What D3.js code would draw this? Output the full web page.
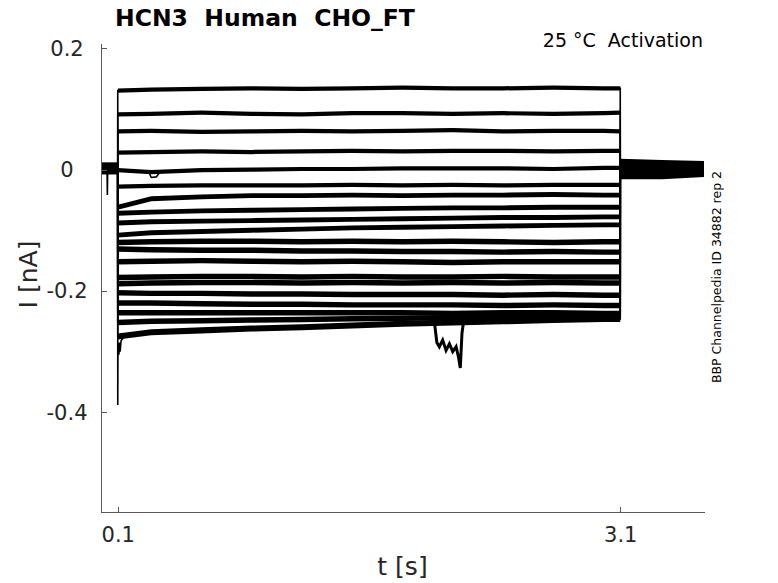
<!DOCTYPE html>
<html>
<head>
<meta charset="utf-8">
<script src="https://cdn.jsdelivr.net/npm/d3@7"></script>
<style>
  body { margin: 0; background: #fff; }
  svg { display: block; font-family: "DejaVu Sans", sans-serif; }
  .axis path, .axis line { stroke: #595959; shape-rendering: crispEdges; }
  .axis text { fill: #262626; font-size: 21px; font-family: "DejaVu Sans", sans-serif; }
</style>
</head>
<body>
<svg id="chart"></svg>
<script>
// sample times of the voltage step (s)
const stepTimes = [0.1, 0.3, 0.6, 0.9, 1.2, 1.5, 1.8, 2.1, 2.4, 2.7, 3.0, 3.1];

// current of each sweep during the step (nA)
const sweep01 = [0.130, 0.132, 0.133, 0.134, 0.133, 0.134, 0.135, 0.134, 0.134, 0.135, 0.134, 0.134];
const sweep02 = [0.091, 0.092, 0.094, 0.092, 0.091, 0.093, 0.093, 0.092, 0.093, 0.092, 0.093, 0.094];
const sweep03 = [0.063, 0.064, 0.062, 0.063, 0.064, 0.063, 0.064, 0.065, 0.063, 0.064, 0.064, 0.063];
const sweep04 = [0.028, 0.029, 0.030, 0.029, 0.030, 0.031, 0.030, 0.031, 0.031, 0.030, 0.031, 0.031];
const sweep05 = [-0.001, -0.004, -0.001, 0.000, 0.001, 0.001, 0.002, 0.002, 0.002, 0.001, 0.003, 0.003];
const sweep06 = [-0.028, -0.027, -0.026, -0.026, -0.026, -0.025, -0.026, -0.025, -0.026, -0.025, -0.025, -0.025];
const sweep07 = [-0.062, -0.048, -0.045, -0.043, -0.043, -0.042, -0.043, -0.042, -0.042, -0.041, -0.042, -0.042];
const sweep08 = [-0.072, -0.070, -0.068, -0.067, -0.066, -0.065, -0.064, -0.063, -0.063, -0.062, -0.062, -0.062];
const sweep09 = [-0.088, -0.086, -0.085, -0.084, -0.083, -0.082, -0.081, -0.080, -0.079, -0.079, -0.078, -0.078];
const sweep10 = [-0.108, -0.104, -0.102, -0.100, -0.098, -0.096, -0.095, -0.094, -0.093, -0.092, -0.091, -0.091];
const sweep11 = [-0.120, -0.119, -0.118, -0.118, -0.119, -0.118, -0.119, -0.118, -0.119, -0.120, -0.119, -0.119];
const sweep12 = [-0.131, -0.132, -0.133, -0.133, -0.134, -0.134, -0.135, -0.135, -0.136, -0.135, -0.136, -0.136];
const sweep13 = [-0.152, -0.151, -0.150, -0.151, -0.152, -0.151, -0.152, -0.153, -0.152, -0.152, -0.152, -0.152];
const sweep14 = [-0.178, -0.177, -0.176, -0.176, -0.177, -0.176, -0.177, -0.177, -0.176, -0.177, -0.177, -0.177];
const sweep15 = [-0.188, -0.187, -0.186, -0.186, -0.187, -0.186, -0.187, -0.186, -0.187, -0.186, -0.187, -0.187];
const sweep16 = [-0.203, -0.204, -0.204, -0.205, -0.205, -0.206, -0.206, -0.206, -0.207, -0.206, -0.207, -0.207];
const sweep17 = [-0.220, -0.220, -0.221, -0.222, -0.222, -0.223, -0.223, -0.223, -0.224, -0.223, -0.224, -0.224];
const sweep18 = [-0.236, -0.236, -0.236, -0.236, -0.236, -0.236, -0.236, -0.237, -0.236, -0.236, -0.237, -0.237];
const sweep19 = [-0.252, -0.250, -0.249, -0.248, -0.247, -0.246, -0.245, -0.244, -0.243, -0.242, -0.242, -0.242];
const sweep20 = [-0.275, -0.268, -0.265, -0.262, -0.260, -0.257, -0.254, -0.252, -0.250, -0.248, -0.246, -0.246];

// noise half-width of each sweep (nA)
const sweepNoise = [0.0035, 0.0035, 0.0035, 0.0035, 0.0035, 0.0035, 0.004, 0.004, 0.004, 0.004,
                    0.0045, 0.0045, 0.0045, 0.0045, 0.0045, 0.0045, 0.0045, 0.0045, 0.0045, 0.005];

// holding current before the step
const holdTimes = [0, 0.1];
const holdCurrent = [0.002, 0.002];
const holdNoise = [0.010, 0.010];
const artifactTimes = [0.036, 0.038, 0.040];
const artifactCurrent = [0.002, -0.042, 0.002];

// short dip on the 0 nA sweep
const dipTimes = [0.28, 0.30, 0.33, 0.36];
const dipCurrent = [-0.001, -0.013, -0.012, -0.001];

// tail after the step
const tailTimes = [3.1, 3.35, 3.6];
const tailCurrent = [0.001, 0.000, 0.001];
const tailNoise = [0.017, 0.016, 0.013];

// capacitive transient at step onset
const transientTimes = [0.1, 0.1, 0.101, 0.104, 0.107, 0.110, 0.114, 0.120, 0.130, 0.150];
const transientCurrent = [0.0, -0.388, -0.310, -0.290, -0.305, -0.285, -0.300, -0.282, -0.278, -0.272];

// downward event on the lowest sweep
const eventTimes = [1.99, 2.005, 2.02, 2.04, 2.06, 2.08, 2.10, 2.12, 2.135, 2.145, 2.155, 2.165];
const eventCurrent = [-0.250, -0.285, -0.292, -0.281, -0.298, -0.287, -0.300, -0.292, -0.310, -0.327, -0.270, -0.250];

const xTicks = [0.1, 3.1];
const yTicks = [0.2, 0, -0.2, -0.4];
const xDomain = [0, 3.6];
const yDomain = [-0.5644, 0.2087];

class TraceChart {

  constructor(_config) {
    this.config = {
      parentElement: _config.parentElement,
      containerWidth: _config.containerWidth || 778,
      containerHeight: _config.containerHeight || 583,
      margin: { top: 43, bottom: 71, right: 74, left: 101 }
    }
    this.initVis();
  }

  initVis() {
    let vis = this;

    vis.width = vis.config.containerWidth - vis.config.margin.left - vis.config.margin.right;
    vis.height = vis.config.containerHeight - vis.config.margin.top - vis.config.margin.bottom;

    vis.svg = d3.select(vis.config.parentElement)
      .attr('width', vis.config.containerWidth)
      .attr('height', vis.config.containerHeight);

    vis.chart = vis.svg.append('g')
      .attr('transform', `translate(${vis.config.margin.left}, ${vis.config.margin.top})`);

    vis.xScale = d3.scaleLinear().domain(xDomain).range([0, vis.width]);
    vis.yScale = d3.scaleLinear().domain(yDomain).range([vis.height, 0]);

    vis.xAxis = d3.axisBottom(vis.xScale)
      .tickValues(xTicks)
      .tickFormat(d => d.toString())
      .tickSizeInner(-5)
      .tickSizeOuter(0)
      .tickPadding(15);
    vis.yAxis = d3.axisLeft(vis.yScale)
      .tickValues(yTicks)
      .tickFormat(d => d.toString())
      .tickSizeInner(-6)
      .tickSizeOuter(0)
      .tickPadding(34);

    vis.line = d3.line()
      .x(d => vis.xScale(d.t))
      .y(d => vis.yScale(d.i));
    vis.band = d3.area()
      .x(d => vis.xScale(d.t))
      .y0(d => vis.yScale(d.i - d.n))
      .y1(d => vis.yScale(d.i + d.n));

    vis.updateVis();
  }

  updateVis() {
    let vis = this;
    const sweeps = [sweep01, sweep02, sweep03, sweep04, sweep05, sweep06, sweep07, sweep08, sweep09, sweep10,
                    sweep11, sweep12, sweep13, sweep14, sweep15, sweep16, sweep17, sweep18, sweep19, sweep20];

    vis.bands = sweeps.map((s, k) => stepTimes.map((t, j) => ({ t: t, i: s[j], n: sweepNoise[k] })));
    vis.bands.push(holdTimes.map((t, j) => ({ t: t, i: holdCurrent[j], n: holdNoise[j] })));
    vis.bands.push(tailTimes.map((t, j) => ({ t: t, i: tailCurrent[j], n: tailNoise[j] })));

    // each sweep jumps from holding to its level and back
    vis.lines = sweeps.map(s => [{ t: stepTimes[0], i: holdCurrent[1] }]
      .concat(stepTimes.map((t, j) => ({ t: t, i: s[j] })))
      .concat([{ t: stepTimes[stepTimes.length - 1], i: tailCurrent[0] }]));
    vis.lines.push(artifactTimes.map((t, j) => ({ t: t, i: artifactCurrent[j] })));
    vis.lines.push(dipTimes.map((t, j) => ({ t: t, i: dipCurrent[j] })));
    vis.lines.push(transientTimes.map((t, j) => ({ t: t, i: transientCurrent[j] })));
    vis.lines.push(eventTimes.map((t, j) => ({ t: t, i: eventCurrent[j] })));

    vis.renderVis();
  }

  renderVis() {
    let vis = this;

    vis.chart.selectAll('.band')
      .data(vis.bands)
      .join('path')
      .attr('class', 'band')
      .attr('d', vis.band)
      .attr('fill', '#000');

    vis.chart.selectAll('.trace')
      .data(vis.lines)
      .join('path')
      .attr('class', 'trace')
      .attr('d', vis.line)
      .attr('fill', 'none')
      .attr('stroke', '#000')
      .attr('stroke-width', (d, k) => k === vis.lines.length - 1 ? 3 : 1.6);

    vis.chart.append('g')
      .attr('class', 'axis x-axis')
      .attr('transform', `translate(0, ${vis.height})`)
      .call(vis.xAxis);
    const yg = vis.chart.append('g')
      .attr('class', 'axis y-axis')
      .call(vis.yAxis);
    yg.selectAll('.tick text').attr('text-anchor', 'middle');

    vis.svg.append('text')
      .attr('x', vis.config.margin.left + vis.width / 2)
      .attr('y', 575)
      .attr('text-anchor', 'middle')
      .attr('font-size', 25)
      .attr('fill', '#262626')
      .text('t [s]');

    vis.svg.append('text')
      .attr('transform', `translate(37, ${vis.config.margin.top + vis.height / 2 - 3}) rotate(-90)`)
      .attr('text-anchor', 'middle')
      .attr('font-size', 25)
      .attr('fill', '#262626')
      .text('I [nA]');

    vis.svg.append('text')
      .attr('x', 115)
      .attr('y', 26)
      .attr('font-size', 23.5)
      .attr('font-weight', 'bold')
      .attr('fill', '#000')
      .style('white-space', 'pre')
      .text('HCN3  Human  CHO_FT');

    vis.svg.append('text')
      .attr('x', 703)
      .attr('y', 47)
      .attr('text-anchor', 'end')
      .attr('font-size', 19)
      .attr('fill', '#000')
      .style('white-space', 'pre')
      .text('25 °C  Activation');

    vis.svg.append('text')
      .attr('transform', 'translate(721, 277) rotate(-90)')
      .attr('text-anchor', 'middle')
      .attr('font-size', 12.5)
      .attr('fill', '#000')
      .text('BBP Channelpedia ID 34882 rep 2');
  }
}

new TraceChart({ parentElement: '#chart' });
</script>
</body>
</html>
